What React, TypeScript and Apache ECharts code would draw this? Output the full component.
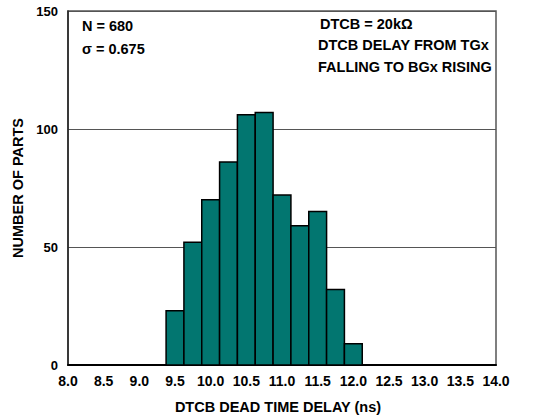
import React, { useEffect, useRef } from "react";
import * as echarts from "echarts";

const binCenters = [9.5, 9.75, 10.0, 10.25, 10.5, 10.75, 11.0, 11.25, 11.5, 11.75, 12.0];
const counts = [23, 52, 70, 86, 106, 107, 72, 59, 65, 32, 9];
const binWidth = 0.25;
const xTicks = { min: 8, max: 14, interval: 0.5 };
const yTicks = { min: 0, max: 150, interval: 50 };
const leftNotes = ["N = 680", "σ = 0.675"];
const rightNotes = ["DTCB = 20kΩ", "DTCB DELAY FROM TGx", "FALLING TO BGx RISING"];
const xName = "DTCB DEAD TIME DELAY (ns)";
const yName = "NUMBER OF PARTS";

const FONT = "'Liberation Sans', Arial, sans-serif";

export default function App() {
  const ref = useRef<HTMLDivElement>(null);
  useEffect(() => {
    if (!ref.current) return;
    const chart = echarts.init(ref.current, undefined, { renderer: "svg" });
    const data = binCenters.map((c, i) => [c, counts[i]]);
    chart.setOption({
      animation: false,
      backgroundColor: "#ffffff",
      textStyle: { fontFamily: FONT },
      grid: {
        left: 68,
        right: 44,
        top: 11,
        bottom: 54,
        show: true,
        borderColor: "#555555",
        borderWidth: 1.5,
        backgroundColor: "transparent",
      },
      xAxis: {
        type: "value",
        min: xTicks.min,
        max: xTicks.max,
        interval: xTicks.interval,
        name: xName,
        nameLocation: "middle",
        nameGap: 34,
        nameTextStyle: {
          fontFamily: FONT,
          fontWeight: "bold",
          fontSize: 14.5,
          color: "#000",
          padding: [0, 8, 0, 0],
        },
        axisLine: { show: true, lineStyle: { color: "#000", width: 2 } },
        axisTick: { show: false },
        splitLine: { show: false },
        axisLabel: {
          fontFamily: FONT,
          fontWeight: "bold",
          fontSize: 14,
          color: "#000",
          margin: 9,
          formatter: (v: number) => v.toFixed(1),
        },
      },
      yAxis: {
        type: "value",
        min: yTicks.min,
        max: yTicks.max,
        interval: yTicks.interval,
        name: yName,
        nameLocation: "middle",
        nameGap: 43,
        nameTextStyle: { fontFamily: FONT, fontWeight: "bold", fontSize: 14.5, color: "#000" },
        axisLine: { show: true, lineStyle: { color: "#222", width: 1.5 } },
        axisTick: { show: false },
        splitLine: { show: true, lineStyle: { color: "#555", width: 1 } },
        axisLabel: {
          fontFamily: FONT,
          fontWeight: "bold",
          fontSize: 13,
          color: "#000",
          margin: 10,
        },
      },
      series: [
        {
          type: "custom",
          data,
          renderItem: (params: any, api: any) => {
            const c = api.value(0);
            const v = api.value(1);
            const p0 = api.coord([c - binWidth / 2, v]);
            const p1 = api.coord([c + binWidth / 2, 0]);
            return {
              type: "rect",
              shape: { x: p0[0], y: p0[1], width: p1[0] - p0[0], height: p1[1] - p0[1] },
              style: { fill: "#027670", stroke: "#000", lineWidth: 1.5 },
            };
          },
          encode: { x: 0, y: 1 },
          z: 3,
        },
      ],
      graphic: [
        ...leftNotes.map((t, i) => ({
          type: "text",
          left: 82,
          top: 18 + i * 23,
          style: { text: t, font: `bold 14.5px ${FONT}`, fill: "#000" },
        })),
        ...rightNotes.map((t, i) => ({
          type: "text",
          left: i === 0 ? 320 : 318,
          top: 16 + i * 21.5,
          style: { text: t, font: `bold 14.5px ${FONT}`, fill: "#000" },
        })),
      ],
    });
    return () => chart.dispose();
  }, []);
  return <div ref={ref} style={{ width: 540, height: 419, position: "absolute", left: 0, top: 0 }} />;
}
